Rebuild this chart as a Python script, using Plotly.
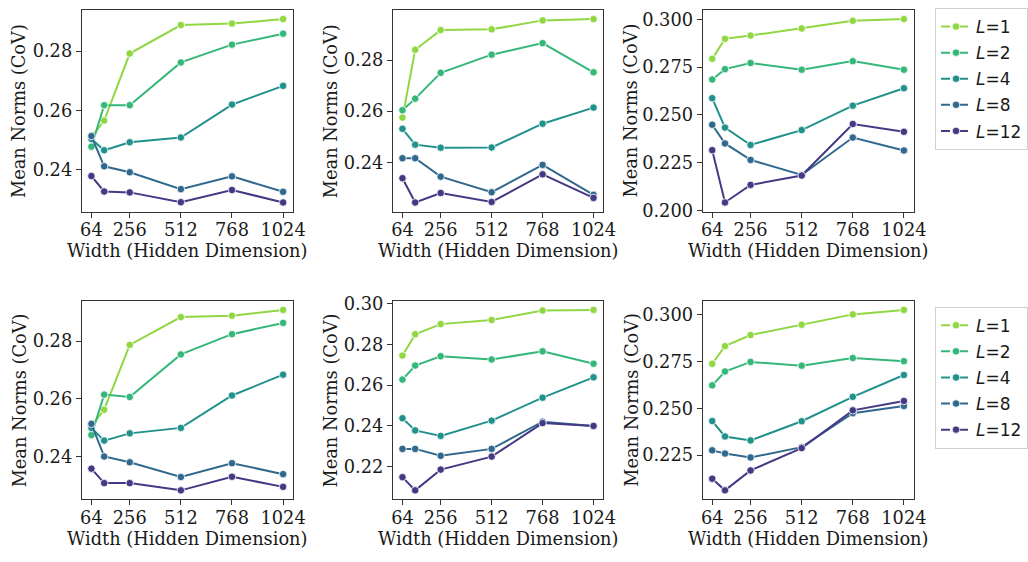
import plotly.graph_objects as go

# Hidden widths on the x axis and the ticks shown
widths = [64, 128, 256, 512, 768, 1024]
width_ticks = [64, 256, 512, 768, 1024]

# Depth levels (legend entries) and their viridis colours
depths = ["1", "2", "4", "8", "12"]
depth_colors = ["#90d743", "#35b779", "#21918c", "#31688e", "#443983"]

# Mean norm CoV per depth (rows: L=1, 2, 4, 8, 12), one block per panel
top_left = [
    [0.2510, 0.2566, 0.2792, 0.2888, 0.2893, 0.2908],
    [0.2478, 0.2618, 0.2618, 0.2762, 0.2822, 0.2859],
    [0.2504, 0.2466, 0.2493, 0.2509, 0.2620, 0.2683],
    [0.2514, 0.2412, 0.2392, 0.2335, 0.2378, 0.2326],
    [0.2379, 0.2327, 0.2324, 0.2291, 0.2332, 0.2290],
]
top_mid = [
    [0.2575, 0.2840, 0.2917, 0.2920, 0.2955, 0.2960],
    [0.2604, 0.2649, 0.2750, 0.2821, 0.2866, 0.2752],
    [0.2531, 0.2469, 0.2457, 0.2458, 0.2551, 0.2614],
    [0.2416, 0.2416, 0.2344, 0.2283, 0.2390, 0.2273],
    [0.2338, 0.2243, 0.2280, 0.2245, 0.2353, 0.2261],
]
top_right = [
    [0.2794, 0.2899, 0.2916, 0.2953, 0.2993, 0.3002],
    [0.2686, 0.2740, 0.2772, 0.2737, 0.2782, 0.2737],
    [0.2588, 0.2434, 0.2343, 0.2421, 0.2549, 0.2640],
    [0.2449, 0.2351, 0.2265, 0.2186, 0.2382, 0.2314],
    [0.2316, 0.2042, 0.2134, 0.2183, 0.2453, 0.2412],
]
bottom_left = [
    [0.2507, 0.2563, 0.2787, 0.2883, 0.2888, 0.2908],
    [0.2475, 0.2615, 0.2607, 0.2754, 0.2824, 0.2863],
    [0.2500, 0.2456, 0.2481, 0.2500, 0.2612, 0.2684],
    [0.2514, 0.2401, 0.2381, 0.2330, 0.2378, 0.2340],
    [0.2359, 0.2309, 0.2309, 0.2284, 0.2331, 0.2296],
]
bottom_mid = [
    [0.2745, 0.2850, 0.2900, 0.2920, 0.2967, 0.2970],
    [0.2627, 0.2696, 0.2742, 0.2726, 0.2766, 0.2705],
    [0.2437, 0.2377, 0.2350, 0.2425, 0.2538, 0.2638],
    [0.2286, 0.2286, 0.2252, 0.2286, 0.2420, 0.2399],
    [0.2147, 0.2082, 0.2184, 0.2248, 0.2413, 0.2399],
]
bottom_right = [
    [0.2737, 0.2831, 0.2890, 0.2945, 0.3000, 0.3024],
    [0.2622, 0.2696, 0.2747, 0.2727, 0.2768, 0.2751],
    [0.2432, 0.2350, 0.2329, 0.2431, 0.2561, 0.2677],
    [0.2276, 0.2259, 0.2238, 0.2293, 0.2474, 0.2512],
    [0.2125, 0.2063, 0.2169, 0.2288, 0.2489, 0.2539],
]

y_ticks_top = [[0.24, 0.26, 0.28], [0.24, 0.26, 0.28], [0.200, 0.225, 0.250, 0.275, 0.300]]
y_ticks_bottom = [[0.24, 0.26, 0.28], [0.22, 0.24, 0.26, 0.28, 0.30], [0.225, 0.250, 0.275, 0.300]]
y_fmt_top = [".2f", ".2f", ".3f"]
y_fmt_bottom = [".2f", ".2f", ".3f"]

W, H = 1028, 562
panels = [top_left, top_mid, top_right, bottom_left, bottom_mid, bottom_right]
y_ticks = y_ticks_top + y_ticks_bottom
y_fmts = y_fmt_top + y_fmt_bottom

# pixel boxes of the plot areas
col_px = [(81, 295), (396.7, 610), (711, 925)]
row_px = [(2, 210), (302, 506.7)]

SERIF = "DejaVu Serif"
TEXT_SIZE = 17.8
INK = "#1a1a1a"

fig = go.Figure()
layout = dict(
    width=W, height=H,
    margin=dict(l=0, r=0, t=0, b=0),
    paper_bgcolor="white", plot_bgcolor="white",
    font=dict(family=SERIF, size=TEXT_SIZE, color=INK),
    annotations=[],
)


def pad_range(values, frac=0.05):
    lo, hi = min(values), max(values)
    span = hi - lo
    return [lo - frac * span, hi + frac * span]


for k, block in enumerate(panels):
    r, c = divmod(k, 3)
    idx = "" if k == 0 else str(k + 1)
    x0, x1 = col_px[c]
    yt, yb = row_px[r]
    all_vals = [v for row in block for v in row]
    axis_common = dict(
        showgrid=False, zeroline=False,
        showline=True, mirror=True, linecolor="#333333", linewidth=1,
        ticks="outside", ticklen=5, tickwidth=1, tickcolor="#333333",
        tickfont=dict(family=SERIF, size=TEXT_SIZE, color=INK),
    )
    layout["xaxis" + idx] = dict(
        axis_common,
        domain=[x0 / W, x1 / W], anchor="y" + idx,
        range=pad_range(widths), tickvals=width_ticks,
        ticktext=[str(t) for t in width_ticks],
        ticklabelstandoff=-3,
    )
    layout["yaxis" + idx] = dict(
        axis_common,
        domain=[1 - yb / H, 1 - yt / H], anchor="x" + idx,
        range=pad_range(all_vals), tickvals=y_ticks[k], tickformat=y_fmts[k],
    )

    for lab, col, vals in zip(depths, depth_colors, block):
        fig.add_trace(go.Scatter(
            x=widths, y=vals, xaxis="x" + idx, yaxis="y" + idx,
            mode="lines+markers", name=f"<i>L</i>={lab}",
            line=dict(color=col, width=2),
            marker=dict(size=7.5, color=col, line=dict(color="white", width=0.8)),
            showlegend=False,
        ))

    # axis titles
    layout["annotations"].append(dict(
        text="Width (Hidden Dimension)", xref="paper", yref="paper",
        x=(x0 + x1) / 2 / W, y=1 - (yb + 40) / H,
        xanchor="center", yanchor="middle", showarrow=False,
        font=dict(family=SERIF, size=TEXT_SIZE, color=INK),
    ))
    title_off = 73 if c == 2 else 63.5
    layout["annotations"].append(dict(
        text="Mean Norms (CoV)", xref="paper", yref="paper",
        x=(x0 - title_off) / W, y=1 - (yt + yb) / 2 / H, textangle=-90,
        xanchor="center", yanchor="middle", showarrow=False,
        font=dict(family=SERIF, size=TEXT_SIZE, color=INK),
    ))

# legend entries for the right-hand panels of each row
for leg, axis_idx in (("legend", "3"), ("legend2", "6")):
    for lab, col in zip(depths, depth_colors):
        fig.add_trace(go.Scatter(
            x=[None], y=[None], xaxis="x" + axis_idx, yaxis="y" + axis_idx,
            mode="lines+markers", name=f"<i>L</i>={lab}",
            line=dict(color=col, width=2, dash="dash"),
            marker=dict(size=7.5, color=col, line=dict(color="white", width=0.8)),
            legend=leg, legendgroup=leg + lab, showlegend=True,
        ))

legend_style = dict(
    x=947 / W, xanchor="left", yanchor="top",
    bgcolor="white", bordercolor="#d0d0d0", borderwidth=1,
    font=dict(family="DejaVu Sans", size=17, color=INK),
    tracegroupgap=1,
)
layout["legend"] = dict(legend_style, y=1.0)
layout["legend2"] = dict(legend_style, y=1 - 308 / H)

fig.update_layout(**layout)
fig.write_html("out.html")
